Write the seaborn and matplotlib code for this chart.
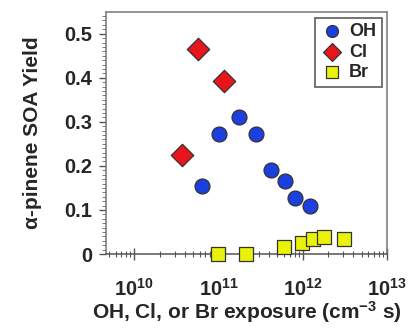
import matplotlib
matplotlib.use("Agg")
import matplotlib.pyplot as plt
import matplotlib.ticker as mticker
import seaborn as sns
import pandas as pd
import numpy as np

# ---- data ----
oh_x = [6.4e10, 1.0e11, 1.74e11, 2.8e11, 4.2e11, 6.2e11, 8.1e11, 1.22e12]
oh_y = [0.155, 0.272, 0.311, 0.272, 0.190, 0.165, 0.128, 0.110]
cl_x = [3.7e10, 5.7e10, 1.16e11]
cl_y = [0.225, 0.466, 0.392]
br_x = [9.8e10, 2.1e11, 5.96e11, 9.8e11, 1.33e12, 1.78e12, 3.05e12]
br_y = [0.0, 0.0, 0.015, 0.024, 0.034, 0.038, 0.034]
series = ["OH", "Cl", "Br"]
ytick_vals = [0, 0.1, 0.2, 0.3, 0.4, 0.5]
ytick_labels = ["0", "0.1", "0.2", "0.3", "0.4", "0.5"]
xlabel = "OH, Cl, or Br exposure (cm$^{-3}$ s)"
ylabel = "α-pinene SOA Yield"

df = pd.concat([
    pd.DataFrame({"x": oh_x, "y": oh_y, "oxidant": "OH"}),
    pd.DataFrame({"x": cl_x, "y": cl_y, "oxidant": "Cl"}),
    pd.DataFrame({"x": br_x, "y": br_y, "oxidant": "Br"}),
], ignore_index=True)

sns.set_theme(style="white")
plt.rcParams["font.family"] = ["Liberation Sans", "DejaVu Sans"]
plt.rcParams["font.weight"] = "bold"
plt.rcParams["mathtext.fontset"] = "custom"
plt.rcParams["mathtext.rm"] = "Liberation Sans:bold"
plt.rcParams["mathtext.it"] = "Liberation Sans:bold"
plt.rcParams["mathtext.bf"] = "Liberation Sans:bold"
plt.rcParams["mathtext.default"] = "rm"

fig = plt.figure(figsize=(4.17, 3.36), dpi=100)
ax = fig.add_axes([0.254, 0.244, 0.674, 0.720])

palette = {"OH": "#1c3fe0", "Cl": "#e8161a", "Br": "#eaf20a"}
markers = {"OH": "o", "Cl": "D", "Br": "s"}
sizes = {"OH": 115, "Cl": 130, "Br": 115}

for s in series:
    sub = df[df["oxidant"] == s]
    sns.scatterplot(data=sub, x="x", y="y", color=palette[s], marker=markers[s],
                    s=sizes[s], edgecolor="#333333", linewidth=0.9, ax=ax,
                    label=s, clip_on=False, zorder=3)

ax.set_xscale("log")
ax.set_xlim(4.6e9, 1e13)
ax.set_ylim(0, 0.549)

ax.xaxis.set_major_locator(mticker.LogLocator(base=10, numticks=10))
ax.xaxis.set_minor_locator(mticker.LogLocator(base=10, subs=np.arange(2, 10), numticks=20))
ax.xaxis.set_major_formatter(mticker.LogFormatterMathtext())
ax.xaxis.set_minor_formatter(mticker.NullFormatter())
ax.yaxis.set_major_locator(mticker.FixedLocator(ytick_vals))
ax.yaxis.set_major_formatter(mticker.FixedFormatter(ytick_labels))
ax.yaxis.set_minor_locator(mticker.MultipleLocator(0.01))

ax.tick_params(axis="x", which="major", direction="inout", length=8, width=1,
               color="#555555", labelsize=14.5, pad=13, bottom=True)
ax.tick_params(axis="x", which="minor", direction="inout", length=4.5, width=0.8,
               color="#555555", bottom=True)
ax.tick_params(axis="y", which="major", direction="out", length=5, width=1,
               color="#555555", labelsize=14.5, pad=5, left=True)
ax.tick_params(axis="y", which="minor", direction="out", length=3, width=0.7,
               color="#777777", left=True)

for sp in ax.spines.values():
    sp.set_color("#777777")
    sp.set_linewidth(1.1)
ax.spines["bottom"].set_color("#555555")

ax.set_xlabel(xlabel, fontsize=15, fontweight="bold", labelpad=0)
ax.set_ylabel(ylabel, fontsize=15, fontweight="bold", labelpad=16)

leg = ax.legend(loc="upper right", frameon=True, fancybox=False,
                edgecolor="#444444", fontsize=13, handletextpad=0.3,
                borderpad=0.3, labelspacing=0.2, borderaxespad=0.3,
                markerscale=0.8, handlelength=1.3)
leg.get_frame().set_linewidth(1.3)
for t in leg.get_texts():
    t.set_fontweight("bold")

fig.savefig("out.png", dpi=100, facecolor="white")
